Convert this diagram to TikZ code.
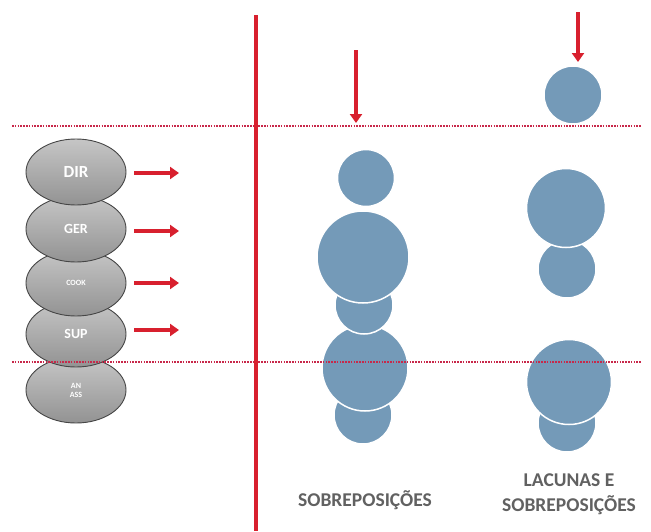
\documentclass[tikz,border=0pt]{standalone}
\usepackage{fontspec}
\setmainfont{Carlito}
\usetikzlibrary{shapes.geometric,arrows.meta}
\definecolor{bluec}{HTML}{749AB8}
\definecolor{redl}{HTML}{D8202E}
\definecolor{dotc}{HTML}{C8284A}
\tikzset{
  pill/.style={ellipse,minimum width=100pt,minimum height=66pt,inner sep=0pt,
    draw=gray!55!black,line width=0.9pt,top color=gray!45,bottom color=gray!85,
    text=white,font=\bfseries},
  circ/.style={circle,fill=bluec,draw=white,line width=1.5pt,inner sep=0pt},
  rarrow/.style={draw=redl,line width=4pt,-{Triangle[length=9pt,width=12pt]}},
  dotline/.style={draw=dotc,line width=1.3pt,dash pattern=on 1.5pt off 1.3pt},
  lbl/.style={text=black!62,font=\bfseries\fontsize{19.5}{25}\selectfont,align=center}
}
\begin{document}
\begin{tikzpicture}[x=1pt,y=-1pt]
\useasboundingbox (0,0) rectangle (651,531);
\fill[white] (0,0) rectangle (651,531);
% left pills (bottom up so upper ones lie on top)
\node[pill,font=\bfseries\fontsize{8}{9}\selectfont,align=center] (ass) at (76,390) {AN\\ASS};
\node[pill,font=\bfseries\fontsize{14}{16}\selectfont] (sup) at (76,334) {SUP};
\node[pill,font=\bfseries\fontsize{8}{9}\selectfont] (cook) at (76,283) {COOK};
\node[pill,font=\bfseries\fontsize{14}{16}\selectfont] (ger) at (76,229) {GER};
\node[pill,font=\bfseries\fontsize{17}{19}\selectfont] (dir) at (76,172) {DIR};
% arrows from pills
\coordinate (a1) at (179,173);
\coordinate (a2) at (179,231);
\coordinate (a3) at (179,283);
\coordinate (a4) at (179,330);
\draw[rarrow] (dir.east) ++(8,1) -- (a1);
\draw[rarrow] (ger.east) ++(8,2) -- (a2);
\draw[rarrow] (cook.east) ++(8,0) -- (a3);
\draw[rarrow] (sup.east) ++(8,-4) -- (a4);
% column 1 circles
\node[circ,minimum size=58pt] (c1e) at (363,415) {};
\node[circ,minimum size=86pt] (c1d) at (365,368) {};
\node[circ,minimum size=58pt] (c1c) at (364,305) {};
\node[circ,minimum size=92pt] (c1b) at (363,257) {};
\node[circ,minimum size=57pt] (c1a) at (366,178) {};
% column 2 circles
\node[circ,minimum size=58pt] (c2e) at (567,423) {};
\node[circ,minimum size=85pt] (c2d) at (569,382) {};
\node[circ,minimum size=58pt] (c2c) at (567,269) {};
\node[circ,minimum size=79pt] (c2b) at (566,208) {};
\node[circ,minimum size=58pt] (c2a) at (573,95) {};
% dotted lines
\coordinate (h1l) at (12,126); \coordinate (h1r) at (641,126);
\coordinate (h2l) at (12,362); \coordinate (h2r) at (641,362);
\draw[dotline] (h1l) -- (h1r);
\draw[dotline] (h2l) -- (h2r);
% vertical line
\coordinate (vt) at (256,15); \coordinate (vb) at (256,531);
\draw[draw=redl,line width=4pt] (vt) -- (vb);
% down arrows
\coordinate (d1s) at (356,50); \coordinate (d1e) at (356,123);
\coordinate (d2s) at (578,12); \coordinate (d2e) at (578,62);
\draw[rarrow] (d1s) -- (d1e);
\draw[rarrow] (d2s) -- (d2e);
% labels
\node[lbl] (t1) at (365,500) {SOBREPOSIÇÕES};
\node[lbl] (t2) at (569,494) {LACUNAS E\\SOBREPOSIÇÕES};
\end{tikzpicture}
\end{document}
